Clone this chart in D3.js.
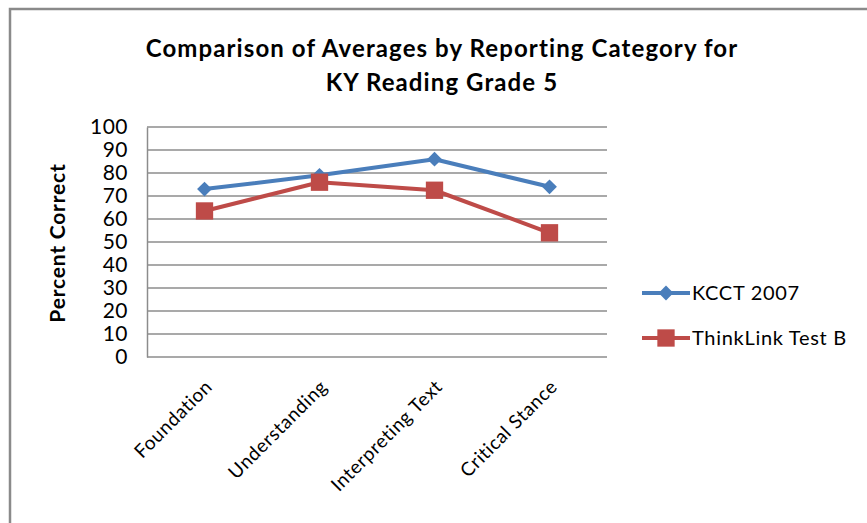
<!DOCTYPE html>
<html>
<head>
<meta charset="utf-8">
<script src="https://cdn.jsdelivr.net/npm/d3@7"></script>
<style>
  body { margin: 0; background: #fff; }
  text { font-family: Lato, "Open Sans", sans-serif; fill: #000; }
</style>
</head>
<body>
<div id="chart"></div>
<script>
const categories = ["Foundation", "Understanding", "Interpreting Text", "Critical Stance"];
const kcct2007 = [73, 79, 86, 74];
const thinkLinkB = [63.5, 76, 72.5, 54];
const seriesNames = ["KCCT 2007", "ThinkLink Test B"];
const yTicks = [0, 10, 20, 30, 40, 50, 60, 70, 80, 90, 100];

const width = 867, height = 523;
const margin = { top: 127, right: 260, bottom: 166, left: 147 };

const svg = d3.select("#chart")
  .append("svg")
  .attr("width", width)
  .attr("height", height);

// outer frame
svg.append("rect")
  .attr("x", 10).attr("y", 9)
  .attr("width", width + 20).attr("height", height + 20)
  .attr("fill", "none")
  .attr("stroke", "#8a8a8a")
  .attr("stroke-width", 2.5);

const x = d3.scaleBand()
  .domain(categories)
  .range([margin.left, width - margin.right])
  .padding(0);

const y = d3.scaleLinear()
  .domain([0, 100])
  .range([height - margin.bottom, margin.top]);

// gridlines
svg.append("g")
  .selectAll("line")
  .data(yTicks)
  .enter()
  .append("line")
  .attr("x1", margin.left)
  .attr("x2", width - margin.right)
  .attr("y1", d => y(d))
  .attr("y2", d => y(d))
  .attr("stroke", "#8c8c8c")
  .attr("stroke-width", 1.5);

// y axis
const yAxis = svg.append("g")
  .attr("transform", `translate(${margin.left},0)`)
  .call(d3.axisLeft(y).tickValues(yTicks).tickSize(0).tickPadding(19));
yAxis.select(".domain").attr("stroke", "#8c8c8c").attr("stroke-width", 1.5);
yAxis.selectAll("text")
  .style("font-size", "21px")
  .style("font-family", "Lato, sans-serif")
  .style("letter-spacing", "0.5px");

// x axis labels
const xAxis = svg.append("g")
  .attr("transform", `translate(0,${y(0)})`)
  .call(d3.axisBottom(x).tickSize(0).tickPadding(0));
xAxis.select(".domain").remove();
xAxis.selectAll("text")
  .style("font-size", "19px")
  .style("font-family", "Lato, sans-serif")
  .style("letter-spacing", "0.6px")
  .attr("text-anchor", "end")
  .attr("dy", 0)
  .attr("transform", "translate(9,31) rotate(-45)");

// y axis title
svg.append("text")
  .attr("transform", `translate(65, ${(y(0) + y(100)) / 2 + 1}) rotate(-90)`)
  .attr("text-anchor", "middle")
  .style("font-size", "21px")
  .style("font-weight", "bold")
  .style("letter-spacing", "0.8px")
  .text("Percent Correct");

// title
const title = svg.append("text")
  .attr("text-anchor", "middle")
  .style("font-size", "24px")
  .style("font-weight", "bold")
  .style("letter-spacing", "1.1px");
title.append("tspan").attr("x", 442).attr("y", 57).text("Comparison of Averages by Reporting Category for");
title.append("tspan").attr("x", 442).attr("y", 91).text("KY Reading Grade 5");

const colors = ["#4a7ebb", "#be4b48"];
const series = [kcct2007, thinkLinkB];
const cx = d => x(d) + x.bandwidth() / 2;

const line = d3.line()
  .x((d, i) => cx(categories[i]))
  .y(d => y(d));

const diamond = d3.symbol().type(d3.symbolSquare).size(110);
const square = d3.symbol().type(d3.symbolSquare).size(300);
const shapes = [diamond, square];
const rot = [45, 0];

series.forEach((vals, s) => {
  svg.append("path")
    .datum(vals)
    .attr("fill", "none")
    .attr("stroke", colors[s])
    .attr("stroke-width", 4)
    .attr("stroke-linejoin", "round")
    .attr("d", line);
  svg.append("g")
    .selectAll("path")
    .data(vals)
    .enter()
    .append("path")
    .attr("d", shapes[s])
    .attr("fill", colors[s])
    .attr("transform", (d, i) => `translate(${cx(categories[i])},${y(d)}) rotate(${rot[s]})`);
});

// legend
const legend = svg.append("g");
seriesNames.forEach((name, s) => {
  const ly = 293 + s * 45;
  legend.append("line")
    .attr("x1", 642).attr("x2", 690)
    .attr("y1", ly).attr("y2", ly)
    .attr("stroke", colors[s])
    .attr("stroke-width", 4);
  legend.append("path")
    .attr("d", shapes[s])
    .attr("fill", colors[s])
    .attr("transform", `translate(666,${ly}) rotate(${rot[s]})`);
  legend.append("text")
    .attr("x", 692).attr("y", ly + 7)
    .style("font-size", "20px")
    .style("letter-spacing", "0.7px")
    .text(name);
});
</script>
</body>
</html>
